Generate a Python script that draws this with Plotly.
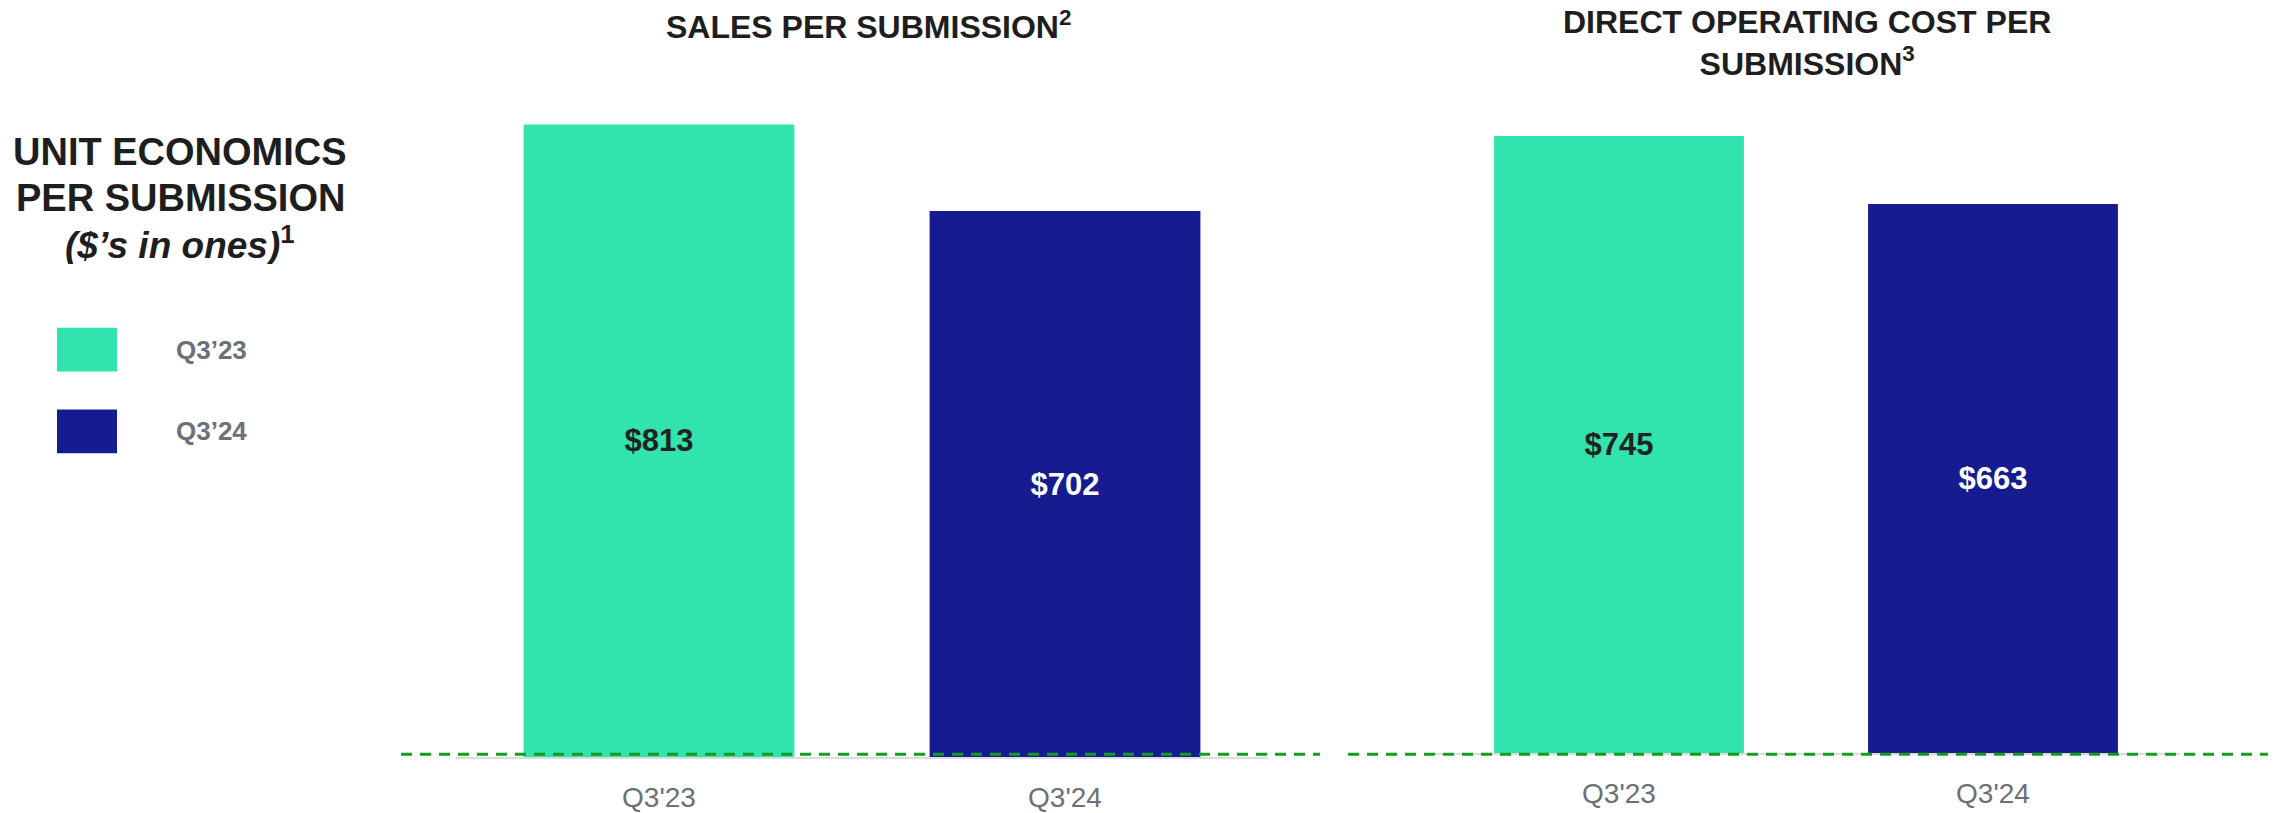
import plotly.graph_objects as go

categories = ["Q3'23", "Q3'24"]
legend_labels = ["Q3’23", "Q3’24"]
sales_per_submission = [813, 702]
cost_per_submission = [745, 663]

bar_colors = ["#31E3AC", "#161C8F"]
label_colors = ["#222222", "#FFFFFF"]
FONT = "Liberation Sans, Arial, sans-serif"
W, H = 2275, 813

fig = go.Figure()
fig.add_trace(go.Bar(
    x=categories, y=sales_per_submission, xaxis="x", yaxis="y",
    marker=dict(color=bar_colors, line=dict(width=0)), width=0.667,
    texttemplate="$%{y}", textposition="inside", insidetextanchor="middle",
    textangle=0,
    textfont=dict(family=FONT, size=31, color=label_colors, weight="bold"),
    showlegend=False, hoverinfo="skip"))
fig.add_trace(go.Bar(
    x=categories, y=cost_per_submission, xaxis="x2", yaxis="y2",
    marker=dict(color=bar_colors, line=dict(width=0)), width=0.668,
    texttemplate="$%{y}", textposition="inside", insidetextanchor="middle",
    textangle=0,
    textfont=dict(family=FONT, size=31, color=label_colors, weight="bold"),
    showlegend=False, hoverinfo="skip"))

tickfont = dict(family=FONT, size=28, color="#6B7079")
axis_common = dict(showgrid=False, zeroline=False, showline=True, linecolor="#DCDCDC",
                   linewidth=2, ticks="", tickfont=tickfont, fixedrange=True,
                   ticklabelstandoff=14, range=[-0.5, 1.5])
fig.update_layout(
    width=W, height=H,
    margin=dict(l=0, r=0, t=0, b=0),
    paper_bgcolor="white", plot_bgcolor="white",
    font=dict(family=FONT),
    xaxis=dict(domain=[456 / W, 1268 / W], anchor="y", **axis_common),
    yaxis=dict(domain=[(H - 760) / H, 1], range=[0, 760 / 0.781], visible=False, fixedrange=True),
    xaxis2=dict(domain=[1432 / W, 2180 / W], anchor="y2", **axis_common),
    yaxis2=dict(domain=[(H - 756) / H, 1], range=[0, 756 / 0.8315], visible=False, fixedrange=True),
)

# dashed green baselines
for x0, x1 in [(401, 1320), (1348, 2268)]:
    fig.add_shape(type="line", xref="paper", yref="paper", x0=x0 / W, x1=x1 / W,
                  y0=(H - 757) / H, y1=(H - 757) / H,
                  line=dict(color="#169A22", width=3, dash="11px,8px"))

dark = "#1E1E1E"
# chart titles
fig.add_annotation(text="SALES PER SUBMISSION<sup>2</sup>", xref="paper", yref="paper",
                   x=868 / W, y=(H - 25) / H, showarrow=False, xanchor="center", yanchor="middle",
                   font=dict(family=FONT, size=32, color=dark, weight="bold"))
fig.add_annotation(text="DIRECT OPERATING COST PER<br>SUBMISSION<sup>3</sup>", xref="paper", yref="paper",
                   x=1807 / W, y=(H - 43) / H, showarrow=False, xanchor="center", yanchor="middle",
                   align="center",
                   font=dict(family=FONT, size=32, color=dark, weight="bold"))

# left block title (one annotation per line)
left_lines = [("UNIT ECONOMICS", 153, 38), ("PER SUBMISSION", 199, 38),
              ("<i>($’s in ones)</i><sup>1</sup>", 244, 37)]
for txt, yc, sz in left_lines:
    fig.add_annotation(text=txt, xref="paper", yref="paper",
                       x=180 / W, y=(H - yc) / H, showarrow=False,
                       xanchor="center", yanchor="middle", height=42, valign="middle",
                       font=dict(family=FONT, size=sz, color=dark, weight="bold"))

# legend
for i, (lab, col) in enumerate(zip(legend_labels, bar_colors)):
    y0 = 329 + i * 82
    fig.add_shape(type="rect", xref="paper", yref="paper",
                  x0=57 / W, x1=117 / W, y0=(H - y0 - 44) / H, y1=(H - y0) / H,
                  fillcolor=col, line=dict(width=0))
    fig.add_annotation(text=lab, xref="paper", yref="paper",
                       x=174 / W, y=(H - y0 - 22) / H, showarrow=False,
                       xanchor="left", yanchor="middle",
                       font=dict(family=FONT, size=26, color="#6B7079", weight="bold"))

fig.write_html("out.html", config={"displayModeBar": False},
               post_script="document.body.style.margin='0';document.body.style.overflow='hidden';")
